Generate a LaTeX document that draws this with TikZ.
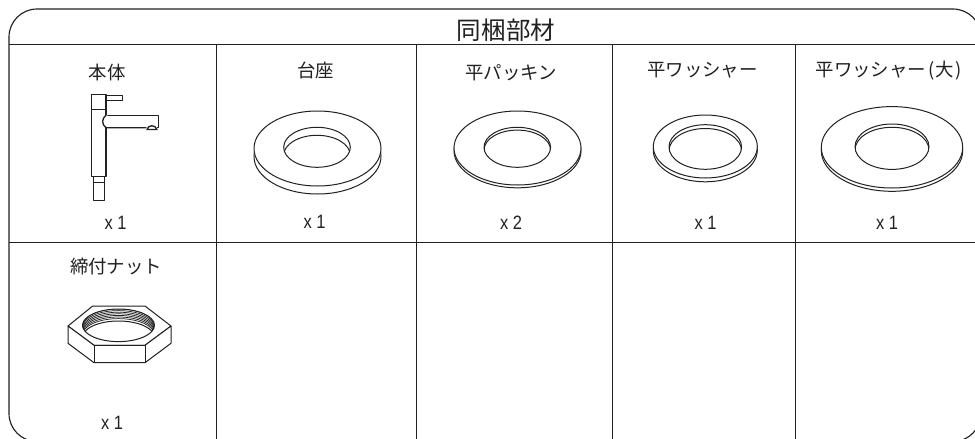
\documentclass[tikz,border=0pt]{standalone}
\usepackage{fontspec}
\newfontfamily\cjk{Noto Sans CJK JP}
\newfontfamily\qtyfont{Liberation Sans}[FakeStretch=0.85]
\setmainfont{Liberation Sans}
\definecolor{ink}{gray}{0.13}
\tikzset{
  every picture/.style={line join=round},
  frame/.style={draw=ink,line width=0.85pt},
  part/.style={draw=ink,line width=0.75pt,fill=white},
  faucet/.style={draw=ink,line width=1pt,fill=white},
  thin part/.style={draw=ink,line width=0.5pt},
  title/.style={text=ink,font=\cjk\fontsize{18.4}{20}\selectfont,inner sep=0pt},
  head/.style={text=ink,font=\cjk\fontsize{13.8}{15}\selectfont,inner sep=0pt},
  qty/.style={text=ink,font=\qtyfont\fontsize{14.5}{16}\selectfont,inner sep=0pt},
}
\newcommand{\washer}[9]{% cx cy rx ry hole-cx hole-cy hole-rx hole-ry drop
  \draw[part] (#1,#2+#9) ellipse [x radius=#3,y radius=#4];
  \draw[part] (#1,#2) ellipse [x radius=#3,y radius=#4];
  \draw[part] (#5,#6) ellipse [x radius=#7,y radius=#8];
  \begin{scope}
    \clip (#5,#6) ellipse [x radius=#7,y radius=#8];
    \draw[part,fill=none] (#5,#6+#9) ellipse [x radius=#7,y radius=#8];
  \end{scope}
}
\begin{document}
\begin{tikzpicture}[x=0.75pt,y=-0.75pt]
\useasboundingbox (0,0) rectangle (975,439);
\fill[white] (0,0) rectangle (975,439);
\begin{scope}
\clip (0,0) rectangle (975,439);
\draw[frame,rounded corners=21pt] (9,9) rectangle (981,441.5);
\end{scope}
% grid
\coordinate (hl) at (9,44.5); \coordinate (hr) at (975,44.5);
\coordinate (ml) at (9,242.5); \coordinate (mr) at (975,242.5);
\draw[frame] (hl) -- (hr);
\draw[frame] (ml) -- (mr);
\foreach \n/\x in {a/216.7,b/416.7,c/612.7,d/795.3}{
  \coordinate (\n t) at (\x,44.5); \coordinate (\n b) at (\x,439);
  \draw[frame] (\n t) -- (\n b);
}
% title
\node[title] (ttl) at (506,30) {同梱部材};
% headings
\node[head] (h1) at (107,72.5) {本体};
\node[head] (h2) at (315.5,70) {台座};
\node[head] (h3) at (511,73) {平パッキン};
\node[head] (h4) at (702.5,70.5) {平ワッシャー};
\node[head] (h5) at (888.5,70.5) {平ワッシャー\hspace{2pt}(\hspace{0.6pt}大\hspace{0.6pt})};
\node[head] (h6) at (116,266.5) {締付ナット};
% quantities
\node[qty] (q1) at (115.5,223) {x 1};
\node[qty] (q2) at (314.5,222) {x 1};
\node[qty] (q3) at (511,223) {x 2};
\node[qty] (q4) at (705.5,223) {x 1};
\node[qty] (q5) at (887,223) {x 1};
\node[qty] (q6) at (112,422.5) {x 1};
% faucet
\draw[faucet] (91.7,94.4) rectangle (106,109.3);
\draw[faucet] (106,95.8) rectangle (122.7,100.3);
\draw[faucet] (93.3,176.7) rectangle (104.3,200.7);
\draw[thin part] (93.3,182.3) -- (104.3,182.3);
\draw[faucet] (91.7,109.3) rectangle (106,176.7);
\fill[white] (101,115.3) rectangle (108,127.7);
\draw[faucet] (106,115.3) -- (158.3,115.3) -- (158.3,127.7) -- (156.5,127.7);
\draw[faucet] (146.3,127.7) -- (106,127.7) .. controls (101.5,124.5) and (101.5,118.5) .. (106,115.3);
\draw[faucet] (147,129.5) .. controls (148,124.5) and (155.5,124.5) .. (157,129.5) -- cycle;
% washers
\washer{317.5}{148.5}{63.5}{37.5}{317}{147.3}{33.3}{20}{8}
\washer{517.5}{148}{63.5}{37}{517.3}{147.3}{33.3}{20}{2.8}
\washer{705.3}{146.5}{52}{31.5}{705.3}{147}{36.3}{22.3}{3.8}
\washer{892}{147.3}{70.7}{40.7}{892}{146.7}{37}{22.7}{3.3}
% nut
\draw[part] (68,326) -- (92.7,306) -- (145,306) -- (171,326) -- (145,345.3) -- (94,345.3) -- cycle;
\draw[part] (68,326) -- (68,343.3) -- (94,362.7) -- (145,362.7) -- (171,343.3) -- (171,326) -- (145,345.3) -- (94,345.3) -- cycle;
\draw[part] (94,345.3) -- (94,362.7);
\draw[part] (145,345.3) -- (145,362.7);
\begin{scope}
\clip (118.5,325.3) ellipse [x radius=36,y radius=16.3];
\foreach \d in {0,1.6,...,11.2}{
  \draw[thin part,line width=0.55pt] (118.5,325.3+\d) ellipse [x radius=36,y radius=16.3];
}
\fill[white] (118.5,337.3) ellipse [x radius=36,y radius=16.3];
\draw[part,fill=none] (118.5,337.3) ellipse [x radius=36,y radius=16.3];
\end{scope}
\draw[part,fill=none] (118.5,325.3) ellipse [x radius=36,y radius=16.3];
\end{tikzpicture}
\end{document}
